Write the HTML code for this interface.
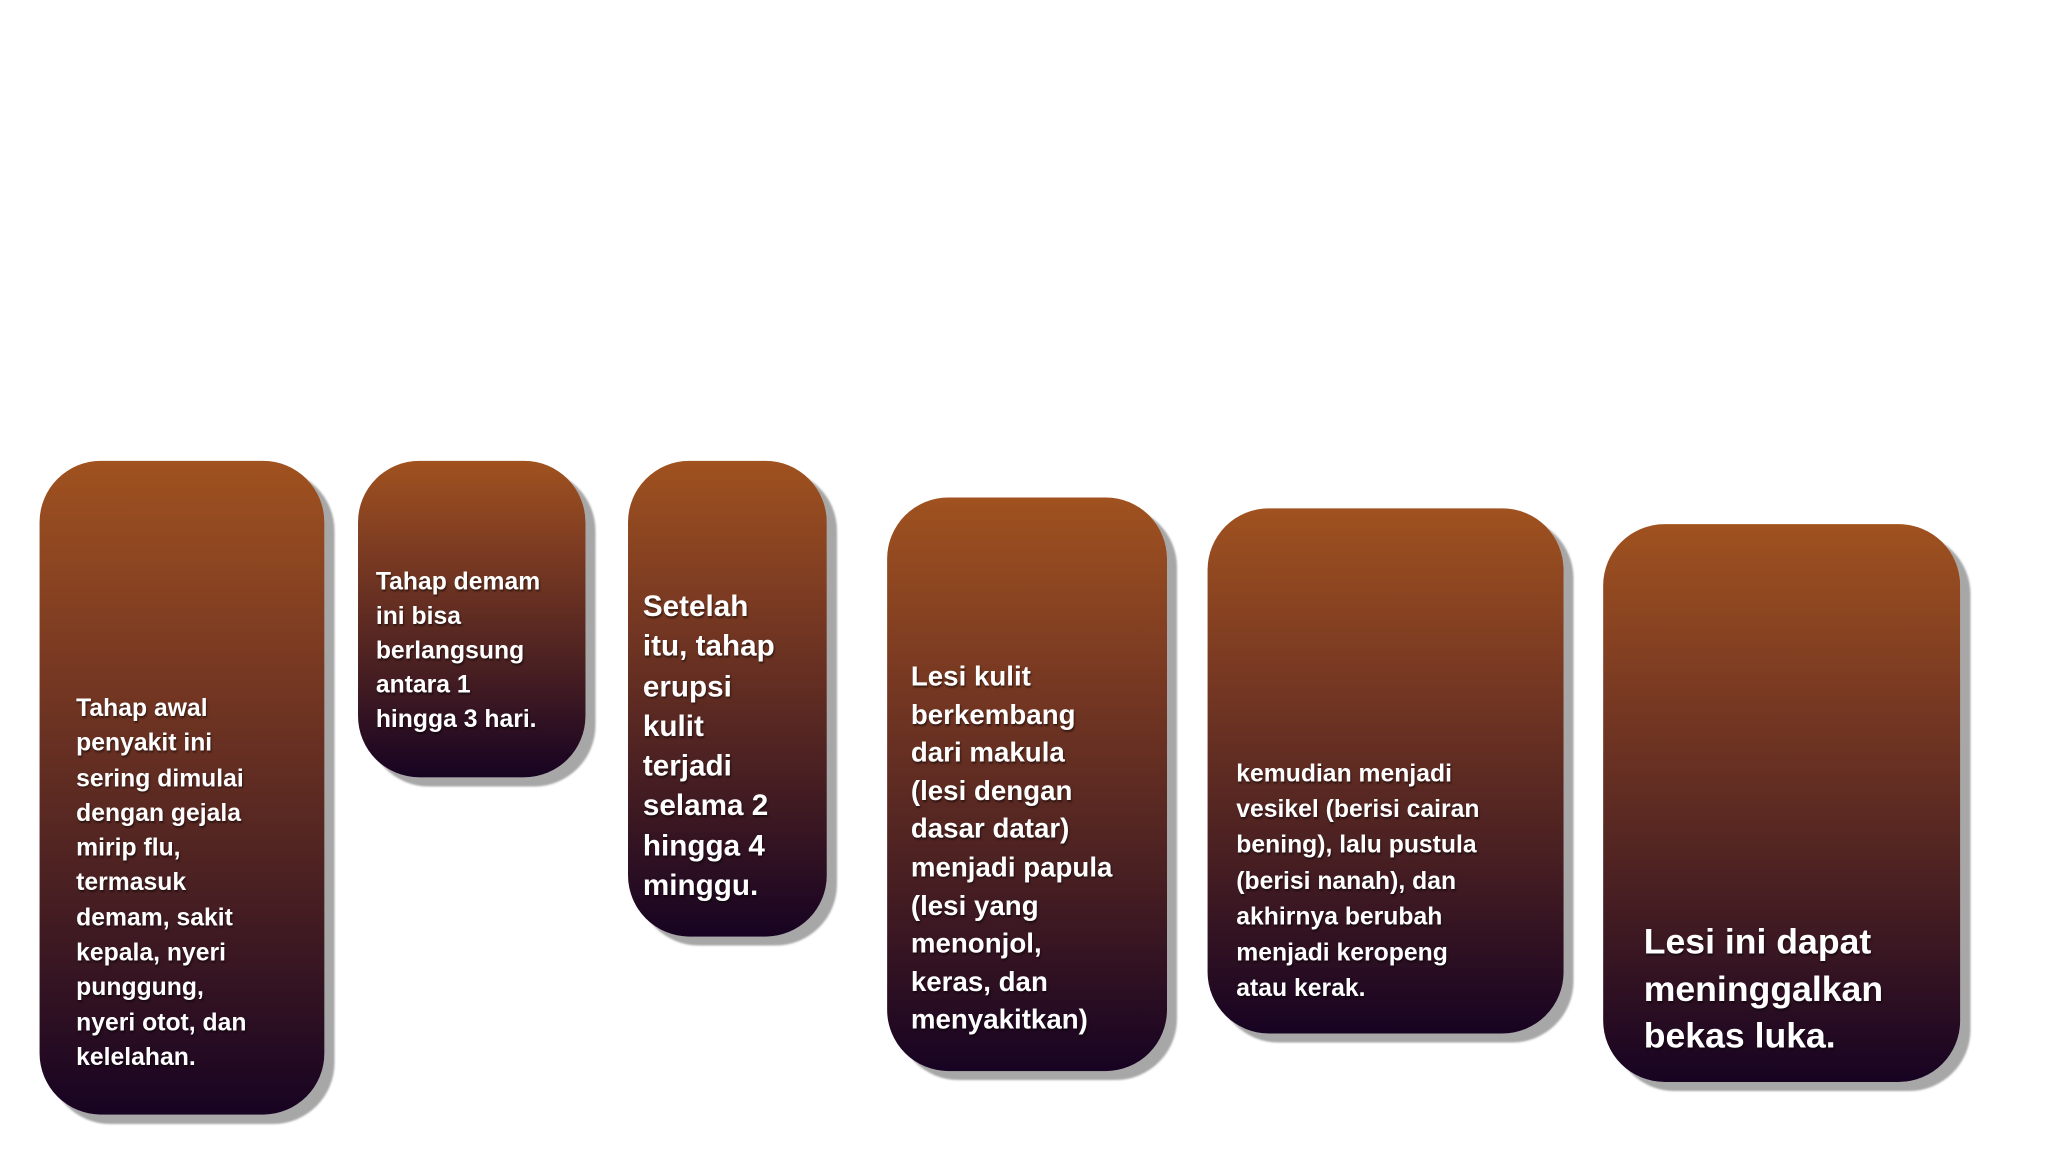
<!DOCTYPE html>
<html><head><meta charset="utf-8"><style>
html,body{margin:0;padding:0;background:#fff;}
body{width:2048px;height:1152px;position:relative;overflow:hidden;font-family:"Liberation Sans",sans-serif;}
#w{position:absolute;left:0;top:0;width:2048px;height:1152px;transform:scale(0.989);transform-origin:0 0;}
.b{position:absolute;border-radius:62px;background:linear-gradient(180deg,#a0521f 0%,#7a3a22 30%,#4a2022 65%,#170322 100%);box-shadow:10px 9px 2px rgba(120,120,120,0.65);}
.t{position:absolute;color:#fff;font-weight:bold;white-space:nowrap;text-shadow:1px 2px 2px rgba(0,0,0,0.5);}
</style></head><body><div id="w">
<div class="b" style="left:40px;top:466px;width:288px;height:661px"></div>
<div class="t" style="left:77px;top:699px;font-size:25px;line-height:35.3px">Tahap awal<br>penyakit ini<br>sering dimulai<br>dengan gejala<br>mirip flu,<br>termasuk<br>demam, sakit<br>kepala, nyeri<br>punggung,<br>nyeri otot, dan<br>kelelahan.</div>

<div class="b" style="left:362px;top:466px;width:230px;height:320px"></div>
<div class="t" style="left:380px;top:571px;font-size:25px;line-height:34.8px">Tahap demam<br>ini bisa<br>berlangsung<br>antara 1<br>hingga 3 hari.</div>

<div class="b" style="left:635px;top:466px;width:201px;height:481px"></div>
<div class="t" style="left:650px;top:594px;font-size:30px;line-height:40.3px">Setelah<br>itu, tahap<br>erupsi<br>kulit<br>terjadi<br>selama 2<br>hingga 4<br>minggu.</div>

<div class="b" style="left:897px;top:503px;width:283px;height:580px"></div>
<div class="t" style="left:921px;top:665px;font-size:28px;line-height:38.6px">Lesi kulit<br>berkembang<br>dari makula<br>(lesi dengan<br>dasar datar)<br>menjadi papula<br>(lesi yang<br>menonjol,<br>keras, dan<br>menyakitkan)</div>

<div class="b" style="left:1221px;top:514px;width:360px;height:531px"></div>
<div class="t" style="left:1250px;top:764px;font-size:25px;line-height:36.2px">kemudian menjadi<br>vesikel (berisi cairan<br>bening), lalu pustula<br>(berisi nanah), dan<br>akhirnya berubah<br>menjadi keropeng<br>atau kerak.</div>

<div class="b" style="left:1621px;top:530px;width:361px;height:564px"></div>
<div class="t" style="left:1662px;top:928px;font-size:36px;line-height:47.5px">Lesi ini dapat<br>meninggalkan<br>bekas luka.</div>
</div></body></html>
